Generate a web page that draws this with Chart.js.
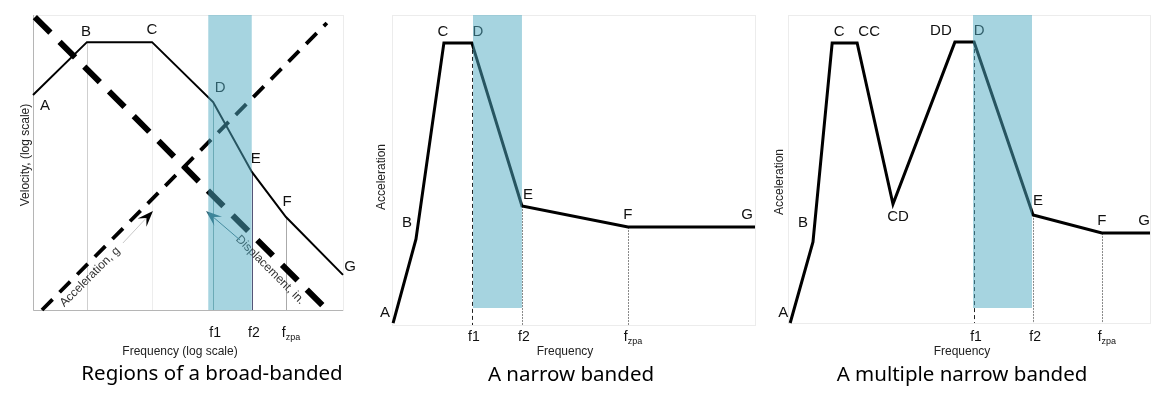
<!DOCTYPE html>
<html>
<head>
<meta charset="utf-8">
<script src="https://cdn.jsdelivr.net/npm/chart.js@4/dist/chart.umd.min.js"></script>
<style>
  html, body { margin: 0; padding: 0; background: #fff; }
  body { width: 1176px; height: 395px; position: relative; overflow: hidden; }
  canvas { position: absolute; top: 0; }
</style>
</head>
<body>
<canvas id="broad" width="370" height="395" style="left:0px"></canvas>
<canvas id="narrow" width="400" height="395" style="left:370px"></canvas>
<canvas id="multi" width="406" height="395" style="left:770px"></canvas>
<script>
// ---- data (log frequency / amplitude, 0..100 in each panel) ----
// broad-banded (velocity)
const broadNames = ['A', 'B', 'C', 'D', 'E', 'F', 'G'];
const broadX = [0, 17.4, 38.4, 58.1, 70.6, 81.6, 100];
const broadY = [72.9, 90.8, 90.8, 70.5, 46.8, 31.5, 11.9];
const broadBand = [56.5, 70.6];
const accelX = [2.9, 94.8];
const accelY = [0, 97.3];
const dispX = [0.6, 94.2];
const dispY = [99.3, 0.7];

// narrow banded
const narrowNames = ['A', 'B', 'C', 'D', 'E', 'F', 'G'];
const narrowX = [0.3, 6.6, 14.3, 22.0, 35.8, 65.0, 100];
const narrowY = [0.6, 27.7, 91.0, 91.0, 38.4, 31.6, 31.6];
const narrowBand = [22.3, 35.8];

// multiple narrow banded
const multiNames = ['A', 'B', 'C', 'CC', 'CD', 'DD', 'D', 'E', 'F', 'G'];
const multiX = [0.6, 6.9, 12.2, 19.1, 29.0, 46.1, 51.4, 67.7, 86.7, 100];
const multiY = [0, 26.3, 90.9, 90.9, 38.6, 91.2, 91.2, 35.1, 29.2, 29.2];
const multiBand = [51.1, 67.4];

// frequency tick labels sit at points D, E and F
const tickLabels = ['f1', 'f2', 'fzpa'];
const tickPoints = ['D', 'E', 'F'];

const BAND = 'rgba(77,169,193,0.5)';
const TXT = '"Liberation Sans", Arial, sans-serif';

function pts(xs, ys) {
  return xs.map((x, i) => ({ x: x, y: ys[i] }));
}

function drawArrow(ctx, x0, y0, x1, y1, color, tailColor) {
  const dx = x1 - x0, dy = y1 - y0, len = Math.hypot(dx, dy);
  const ux = dx / len, uy = dy / len, nx = -uy, ny = ux;
  const L = 16, W = 6;
  ctx.strokeStyle = tailColor;
  ctx.lineWidth = 1;
  ctx.beginPath();
  ctx.moveTo(x0, y0);
  ctx.lineTo(x1 - ux * 9, y1 - uy * 9);
  ctx.stroke();
  ctx.fillStyle = color;
  ctx.beginPath();
  ctx.moveTo(x1, y1);
  ctx.lineTo(x1 - ux * L + nx * W, y1 - uy * L + ny * W);
  ctx.lineTo(x1 - ux * L * 0.6, y1 - uy * L * 0.6);
  ctx.lineTo(x1 - ux * L - nx * W, y1 - uy * L - ny * W);
  ctx.closePath();
  ctx.fill();
}

const sketch = {
  id: 'sketch',
  beforeDatasetsDraw(chart, args, o) {
    const ctx = chart.ctx, a = chart.chartArea;
    const X = v => chart.scales.x.getPixelForValue(v);
    const Y = v => chart.scales.y.getPixelForValue(v);
    ctx.save();
    // faint frame
    ctx.strokeStyle = '#ececec';
    ctx.lineWidth = 1;
    ctx.strokeRect(Math.round(a.left) + 0.5, Math.round(a.top) + 0.5, Math.round(a.width), Math.round(a.height));
    if (o.axisColor) {
      ctx.strokeStyle = o.axisColor;
      ctx.beginPath();
      ctx.moveTo(Math.round(a.left) + 0.5, a.top);
      ctx.lineTo(Math.round(a.left) + 0.5, Math.round(a.bottom) + 0.5);
      ctx.lineTo(a.right, Math.round(a.bottom) + 0.5);
      ctx.stroke();
    }
    // vertical guide lines dropped from points
    o.guides.forEach(g => {
      const i = o.names.indexOf(g.at);
      const gx = Math.round(X(o.xs[i])) + 0.5;
      ctx.strokeStyle = g.color;
      ctx.setLineDash(g.dash || []);
      ctx.beginPath();
      ctx.moveTo(gx, Y(o.ys[i]));
      ctx.lineTo(gx, Y(0));
      ctx.stroke();
    });
    ctx.setLineDash([]);
    // point letters
    ctx.font = '15px ' + TXT;
    ctx.fillStyle = '#111';
    ctx.textAlign = 'center';
    ctx.textBaseline = 'middle';
    o.names.forEach((n, i) => {
      const off = o.offsets[n];
      ctx.fillText(n, X(o.xs[i]) + off[0], Y(o.ys[i]) + off[1]);
    });
    // rotated notes along dashed lines
    (o.notes || []).forEach(t => {
      ctx.save();
      ctx.translate(X(t.x), Y(t.y));
      ctx.rotate(t.angle * Math.PI / 180);
      ctx.font = '12px ' + TXT;
      ctx.fillStyle = t.color;
      ctx.fillText(t.text, 0, 0);
      ctx.restore();
    });
    (o.arrows || []).forEach(r => {
      drawArrow(ctx, X(r.from[0]), Y(r.from[1]), X(r.to[0]), Y(r.to[1]), r.color, r.tail);
    });
    ctx.restore();
  },
  afterDraw(chart, args, o) {
    const ctx = chart.ctx, a = chart.chartArea;
    const X = v => chart.scales.x.getPixelForValue(v);
    ctx.save();
    ctx.fillStyle = '#111';
    ctx.textBaseline = 'middle';
    // frequency ticks
    tickLabels.forEach((lab, k) => {
      const i = o.names.indexOf(tickPoints[k]);
      const cx = X(o.xs[i]);
      const ty = a.bottom + o.tickGap;
      if (lab === 'fzpa') {
        ctx.font = '14px ' + TXT;
        const wf = ctx.measureText('f').width;
        ctx.font = '9px ' + TXT;
        const wz = ctx.measureText('zpa').width;
        const x0 = cx + 5 - (wf + wz) / 2;
        ctx.textAlign = 'left';
        ctx.font = '14px ' + TXT;
        ctx.fillText('f', x0, ty);
        ctx.font = '9px ' + TXT;
        ctx.fillText('zpa', x0 + wf, ty + 5);
      } else {
        ctx.textAlign = 'center';
        ctx.font = '14px ' + TXT;
        ctx.fillText(lab, cx + 2, ty);
      }
    });
    // axis titles
    ctx.textAlign = 'center';
    ctx.font = '12px ' + TXT;
    ctx.fillStyle = '#222';
    ctx.fillText(o.xTitle, o.xTitlePos[0], o.xTitlePos[1]);
    ctx.save();
    ctx.translate(o.yTitlePos[0], o.yTitlePos[1]);
    ctx.rotate(-Math.PI / 2);
    ctx.fillText(o.yTitle, 0, 0);
    ctx.restore();
    // caption
    ctx.font = '20.5px "Noto Sans", sans-serif';
    ctx.fillStyle = '#000';
    ctx.textBaseline = 'alphabetic';
    ctx.fillText(o.caption, o.captionPos[0], o.captionPos[1]);
    ctx.restore();
  }
};

function lineSet(data, width, dash, order) {
  return {
    data: data, borderColor: '#000', borderWidth: width, borderDash: dash || [],
    pointRadius: 0, tension: 0, fill: false, clip: false, order: order
  };
}

function bandSet(band, bottom) {
  return {
    data: [{ x: band[0], y: 100 }, { x: band[1], y: 100 }],
    borderWidth: 0, borderColor: 'rgba(0,0,0,0)', backgroundColor: BAND,
    pointRadius: 0, fill: { value: bottom }, order: -1
  };
}

function makeChart(id, datasets, padding, sketchOpts) {
  return new Chart(document.getElementById(id), {
    type: 'line',
    data: { datasets: datasets },
    options: {
      responsive: false,
      animation: false,
      events: [],
      layout: { padding: padding },
      scales: {
        x: { type: 'linear', min: 0, max: 100, display: false },
        y: { type: 'linear', min: 0, max: 100, display: false }
      },
      plugins: { legend: { display: false }, tooltip: { enabled: false }, sketch: sketchOpts }
    },
    plugins: [sketch]
  });
}

makeChart('broad', [
  lineSet(pts(broadX, broadY), 2, [], 0),
  lineSet(pts(accelX, accelY), 3.8, [15, 10], 1),
  lineSet(pts(dispX, dispY), 6, [22, 13], 1),
  bandSet(broadBand, 0)
], { left: 33, top: 15, right: 27, bottom: 85 }, {
  names: broadNames, xs: broadX, ys: broadY,
  axisColor: '#b5b5b5',
  guides: [
    { at: 'B', color: '#cfcfcf' }, { at: 'C', color: '#ededed' },
    { at: 'D', color: '#8aa' }, { at: 'E', color: '#557' }, { at: 'F', color: '#aaa' }
  ],
  offsets: { A: [12, 11], B: [-1, -10], C: [0, -12], D: [7, -14], E: [4, -13], F: [1, -15], G: [7, -8] },
  notes: [
    { text: 'Acceleration, g', x: 18.4, y: 11.2, angle: -45, color: '#333' },
    { text: 'Displacement, in.', x: 76.5, y: 13.6, angle: 45, color: '#333' }
  ],
  arrows: [
    { from: [29.0, 22.7], to: [38.7, 33.6], color: '#000', tail: '#c8c8c8' },
    { from: [66.8, 23.7], to: [55.8, 33.6], color: '#2d6070', tail: '#3d6e7d' }
  ],
  tickGap: 23,
  xTitle: 'Frequency (log scale)', xTitlePos: [180, 352],
  yTitle: 'Velocity, (log scale)', yTitlePos: [26, 155],
  caption: 'Regions of a broad-banded', captionPos: [212, 380]
});

makeChart('narrow', [
  lineSet(pts(narrowX, narrowY), 3, [], 0),
  bandSet(narrowBand, 5.5)
], { left: 22, top: 15, right: 15, bottom: 70 }, {
  names: narrowNames, xs: narrowX, ys: narrowY,
  guides: [
    { at: 'D', color: '#222', dash: [4, 3] },
    { at: 'E', color: '#888', dash: [2, 1] },
    { at: 'F', color: '#888', dash: [2, 1] }
  ],
  offsets: { A: [-8, -10], B: [-9, -16], C: [-1, -11], D: [6, -11], E: [6, -11], F: [0, -12], G: [-8, -12] },
  tickGap: 12,
  xTitle: 'Frequency', xTitlePos: [195, 352],
  yTitle: 'Acceleration', yTitlePos: [12, 177],
  caption: 'A narrow banded', captionPos: [201, 381]
});

makeChart('multi', [
  lineSet(pts(multiX, multiY), 3, [], 0),
  bandSet(multiBand, 4.9)
], { left: 18, top: 15, right: 26, bottom: 72 }, {
  names: multiNames, xs: multiX, ys: multiY,
  guides: [
    { at: 'D', color: '#222', dash: [4, 3] },
    { at: 'E', color: '#888', dash: [2, 1] },
    { at: 'F', color: '#888', dash: [2, 1] }
  ],
  offsets: { A: [-7, -10], B: [-10, -19], C: [7, -11], CC: [12, -11], CD: [5, 13], DD: [-14, -11], D: [5, -11], E: [5, -14], F: [0, -12], G: [-6, -12] },
  tickGap: 14,
  xTitle: 'Frequency', xTitlePos: [192, 352],
  yTitle: 'Acceleration', yTitlePos: [10, 182],
  caption: 'A multiple narrow banded', captionPos: [192, 381]
});
</script>
</body>
</html>
